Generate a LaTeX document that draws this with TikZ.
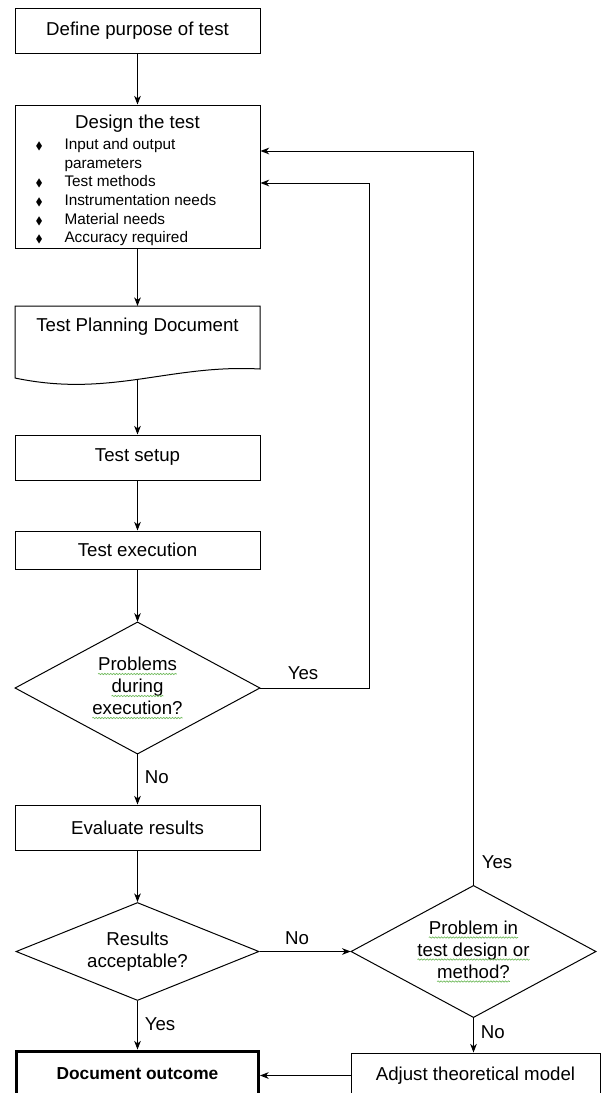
\documentclass[tikz,border=0pt]{standalone}
\usepackage{fontspec}
\setmainfont{Liberation Sans}
\usepackage{amssymb}
\usetikzlibrary{arrows.meta,shapes.geometric,positioning,decorations.pathmorphing}

\definecolor{spellgreen}{RGB}{110,185,90}
\newcommand{\mainfs}{\fontsize{14}{16.5}\selectfont}
\newcommand{\listfs}{\fontsize{11.5}{14}\selectfont}
\newcommand{\itm}{\makebox[21.75pt][l]{\footnotesize$\blacklozenge$}}
\newcommand{\spellmark}[1]{\tikz[baseline=(w.base)]{%
  \node[shape=rectangle,draw=none,inner sep=0pt,outer sep=0pt,minimum width=0pt,minimum height=0pt] (w) {#1};
  \draw[spellgreen,line width=0.5pt,decorate,decoration={snake,amplitude=0.5pt,segment length=2.2pt}]
    ([yshift=-2.6pt]w.base west) -- ([yshift=-2.6pt]w.base east);}}

\begin{document}
\begin{tikzpicture}[x=0.75pt,y=-0.75pt,line width=0.75pt,font=\mainfs,
  box/.style={draw,rectangle,minimum width=183.75pt,minimum height=33.75pt,inner sep=2pt},
  decide/.style={draw,diamond,aspect=1.86,inner sep=0pt,align=center,
    minimum width=183.75pt,minimum height=99pt},
  arr/.style={-{Stealth[length=6.5pt,width=5pt,inset=2pt]}},
  lbl/.style={inner sep=1pt}]
  \useasboundingbox (0,0) rectangle (601,1093);
  \node[box] (define) at (137.5,30.5) {Define purpose of test};
  \node[box,minimum height=107.25pt] (design) at (137.5,176.5) {};
  \node (designttl) at (137.5,124) {Design the test};
  \node[anchor=north west,inner sep=0pt,font=\listfs,align=left] (designlist) at (35,138)
    {\itm Input and output\\\hspace*{21.75pt}parameters\\\itm Test methods\\
     \itm Instrumentation needs\\\itm Material needs\\\itm Accuracy required};
  \draw (15,306) -- (260,306) -- (260,369) .. controls (170,364) and (110,398) .. (15,378) -- cycle;
  \coordinate (doctop) at (137.5,306);
  \coordinate (docbot) at (137.5,379);
  \node (plandoc) at (137.5,327) {Test Planning Document};
  \node[box] (setup) at (137.5,457.5) {Test setup};
  \node[box,minimum height=28.5pt] (exec) at (137.5,550) {Test execution};
  \node[decide] (probexec) at (137.5,688)
    {\spellmark{Problems}\\\spellmark{during}\\\spellmark{execution?}};
  \node[box] (evaluate) at (137.5,827.5) {Evaluate results};
  \node[decide,minimum width=182.25pt,minimum height=73.5pt] (resacc) at (137.5,951.5)
    {Results\\acceptable?};
  \node[decide] (probdesign) at (473.5,951.5)
    {\spellmark{Problem in}\\\spellmark{test design or}\\\spellmark{method?}};
  \node[box,line width=2.25pt,minimum width=181.5pt,font=\fontsize{13}{16}\selectfont\bfseries]
    (outcome) at (137.5,1073.5) {Document outcome};
  \node[box,minimum width=186.75pt] (adjust) at (475.5,1075.5) {Adjust theoretical model};
  \coordinate (innerc) at (369,183);
  \coordinate (outerc) at (473.5,151);
  \draw[arr] (define) -- (design);
  \draw[arr] (design) -- (doctop);
  \draw[arr] (docbot) -- (setup);
  \draw[arr] (setup) -- (exec);
  \draw[arr] (exec) -- (probexec);
  \draw[arr] (probexec) -- (evaluate);
  \draw[arr] (evaluate) -- (resacc);
  \draw[arr] (resacc) -- (outcome);
  \draw[arr] (resacc.east) -- (probdesign.west);
  \draw[arr] (probdesign.south) -- (probdesign.south |- adjust.north);
  \draw[arr] (adjust.west) -- (outcome.east |- adjust.west);
  \draw[arr] (probexec.east) -| (innerc) -- (design.east |- innerc);
  \draw[arr] (probdesign.north) |- (design.east |- outerc);
  \node[lbl,anchor=west] (yes1) at (286,673) {Yes};
  \node[lbl,anchor=west] (no1) at (143,777) {No};
  \node[lbl,anchor=west] (yes2) at (143,1024) {Yes};
  \node[lbl] (no2) at (297,938) {No};
  \node[lbl,anchor=west] (yes3) at (480,862) {Yes};
  \node[lbl,anchor=west] (no3) at (479,1032) {No};
\end{tikzpicture}
\end{document}
